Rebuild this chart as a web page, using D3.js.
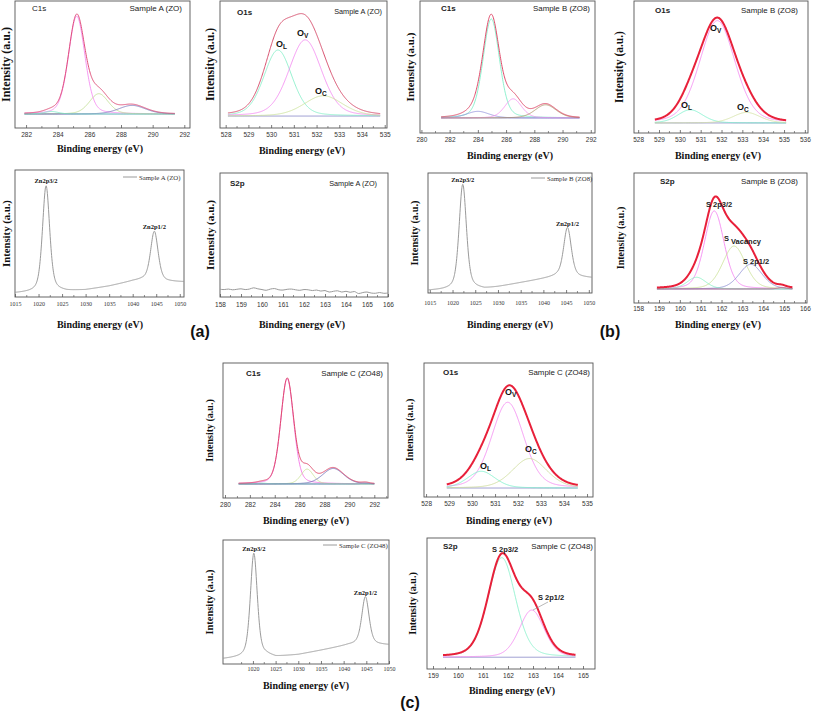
<!DOCTYPE html>
<html><head><meta charset="utf-8">
<script src="https://cdn.jsdelivr.net/npm/d3@7"></script>
<style>body{margin:0;background:#fff}</style>
</head><body><svg id="c" width="813" height="711" xmlns="http://www.w3.org/2000/svg"></svg>
<script>
// ===================== DATA =====================
// Fitted components: [centre (eV), height (relative intensity), sigma (eV)]
const aC1sTicks = [282, 284, 286, 288, 290, 292];
const aC1sBase = 0.11;
const aC1sRange = [281.9, 291.4];
const aC1sPeaks = [[285.2, 0.77, 0.52], [286.6, 0.16, 0.6], [288.7, 0.068, 0.85], [283.6, 0.02, 0.45]];

const aO1sTicks = [528, 529, 530, 531, 532, 533, 534, 535];
const aO1sBase = 0.094;
const aO1sRange = [528.1, 534.8];
const aO1sPeaks = [[530.3, 0.52, 0.62], [531.5, 0.6, 0.72], [532.3, 0.16, 0.85]];

const aZnTicks = [1015, 1020, 1025, 1030, 1035, 1040, 1045, 1050];
const aZnBackground = [[1015, 0.03], [1018, 0.035], [1020, 0.04], [1023, 0.05], [1026, 0.045], [1030, 0.055], [1035, 0.085], [1040, 0.125], [1042, 0.135], [1047, 0.12], [1051, 0.118]];
const aZnPeaks = [[1021.6, 0.83, 1.8], [1044.6, 0.39, 1.9]];

const aS2pTicks = [158, 159, 160, 161, 162, 163, 164, 165, 166];
const aS2pEnergy = [158.0, 158.2, 158.4, 158.6, 158.8, 159.0, 159.2, 159.4, 159.6, 159.8, 160.0, 160.2, 160.4, 160.6, 160.8, 161.0, 161.2, 161.4, 161.6, 161.8, 162.0, 162.2, 162.4, 162.6, 162.8, 163.0, 163.2, 163.4, 163.6, 163.8, 164.0, 164.2, 164.4, 164.6, 164.8, 165.0, 165.2, 165.4, 165.6, 165.8, 166.0];
const aS2pIntensity = [0.062, 0.060, 0.064, 0.058, 0.062, 0.066, 0.060, 0.064, 0.074, 0.066, 0.060, 0.054, 0.064, 0.068, 0.058, 0.056, 0.062, 0.064, 0.058, 0.054, 0.060, 0.058, 0.052, 0.056, 0.048, 0.052, 0.040, 0.046, 0.050, 0.040, 0.046, 0.038, 0.044, 0.028, 0.036, 0.040, 0.032, 0.030, 0.036, 0.030, 0.032];

const bC1sTicks = [280, 282, 284, 286, 288, 290, 292];
const bC1sBase = 0.114;
const bC1sRange = [281.4, 291.2];
const bC1sPeaks = [[284.95, 0.75, 0.58], [284.0, 0.05, 0.8], [286.5, 0.145, 0.6], [288.8, 0.1, 0.75]];

const bO1sTicks = [528, 529, 530, 531, 532, 533, 534, 535, 536];
const bO1sBase = 0.076;
const bO1sRange = [528.8, 535.1];
const bO1sPeaks = [[531.8, 0.775, 0.85], [530.5, 0.1, 0.6], [533.2, 0.08, 0.65]];

const bZnTicks = [1015, 1020, 1025, 1030, 1035, 1040, 1045, 1050];
const bZnBackground = [[1014.6, 0.02], [1018, 0.025], [1020, 0.03], [1024, 0.04], [1027, 0.033], [1030, 0.05], [1035, 0.085], [1041, 0.125], [1043, 0.14], [1048, 0.13], [1050.7, 0.125]];
const bZnPeaks = [[1022.25, 0.87, 1.9], [1045.3, 0.41, 2.0]];

const bS2pTicks = [158, 159, 160, 161, 162, 163, 164, 165, 166];
const bS2pBase = 0.108;
const bS2pRange = [158.9, 165.4];
const bS2pPeaks = [[161.65, 0.6, 0.47], [162.6, 0.33, 0.55], [163.4, 0.19, 0.55], [160.8, 0.09, 0.45], [164.9, 0.012, 0.2]];

const cC1sTicks = [280, 282, 284, 286, 288, 290, 292];
const cC1sBase = 0.104;
const cC1sRange = [281.1, 292.0];
const cC1sPeaks = [[285.0, 0.78, 0.52], [286.6, 0.11, 0.5], [288.7, 0.115, 0.85], [283.0, 0.006, 0.4], [291.3, 0.008, 0.3]];

const cO1sTicks = [528, 529, 530, 531, 532, 533, 534, 535];
const cO1sBase = 0.067;
const cO1sRange = [528.9, 534.6];
const cO1sPeaks = [[531.55, 0.64, 0.7], [532.5, 0.22, 0.75], [530.4, 0.125, 0.6]];

const cZnTicks = [1020, 1025, 1030, 1035, 1040, 1045, 1050];
const cZnBackground = [[1013.4, 0.04], [1017, 0.05], [1019, 0.06], [1023, 0.07], [1025, 0.056], [1030, 0.075], [1035, 0.11], [1041, 0.153], [1043, 0.16], [1048, 0.155], [1050, 0.153]];
const cZnPeaks = [[1020.2, 0.83, 1.8], [1044.8, 0.385, 1.9]];

const cS2pTicks = [159, 160, 161, 162, 163, 164, 165];
const cS2pBase = 0.09;
const cS2pRange = [159.4, 164.7];
const cS2pPeaks = [[161.75, 0.76, 0.55], [162.95, 0.36, 0.5]];

// ===================== DRAWING =====================
const svg = d3.select('#c');
const SANS = 'Liberation Sans, Arial, sans-serif';
const SERIF = 'Liberation Serif, Times New Roman, serif';
const MIX = 0.25; // Lorentzian fraction of the fitted line shapes

function comp(p, e) {
  const d = e - p[0];
  const g = Math.exp(-(d * d) / (2 * p[2] * p[2]));
  const hw = 1.1774 * p[2];
  const l = 1 / (1 + (d * d) / (hw * hw));
  return p[1] * ((1 - MIX) * g + MIX * l);
}
function voigt(p, e) {
  const w = p[2] / 2, d = e - p[0];
  const g = Math.exp(-Math.log(2) * d * d / (w * w));
  const l = 1 / (1 + d * d / (w * w));
  return p[1] * (0.55 * g + 0.45 * l);
}
function bgAt(bg, e) {
  for (let i = 0; i < bg.length - 1; i++) {
    if (e <= bg[i + 1][0]) {
      const t = (e - bg[i][0]) / (bg[i + 1][0] - bg[i][0]);
      return bg[i][1] + t * (bg[i + 1][1] - bg[i][1]);
    }
  }
  return bg[bg.length - 1][1];
}

function frame(cfg) {
  const [bx, by, bw, bh] = cfg.box;
  const x = d3.scaleLinear().domain(cfg.xd).range([bx, bx + bw]);
  const y = d3.scaleLinear().domain([0, 1]).range([by + bh, by]);
  const g = svg.append('g');
  const ax = d3.axisBottom(x).tickValues(cfg.ticks).tickSize(-3).tickPadding(cfg.tpad || 4).tickFormat(d3.format('d'));
  const ag = g.append('g').attr('transform', `translate(0,${by + bh})`).call(ax);
  ag.select('.domain').remove();
  ag.selectAll('.tick line').attr('stroke', '#444').attr('stroke-width', 0.7);
  ag.selectAll('text').attr('font-family', cfg.tickFont).attr('font-size', cfg.tickSize).attr('fill', '#333');
  const step = cfg.ticks[1] - cfg.ticks[0];
  const minors = [];
  for (let i = 0; i < cfg.ticks.length; i++) {
    const m = cfg.ticks[i] + step / 2;
    if (m < cfg.xd[1]) minors.push(m);
    if (i === 0 && cfg.ticks[0] - step / 2 > cfg.xd[0]) minors.push(cfg.ticks[0] - step / 2);
  }
  g.selectAll('line.minor').data(minors).join('line').attr('class', 'minor')
    .attr('x1', d => x(d)).attr('x2', d => x(d)).attr('y1', by + bh).attr('y2', by + bh - 2)
    .attr('stroke', '#444').attr('stroke-width', 0.6);
  g.append('rect').attr('x', bx).attr('y', by).attr('width', bw).attr('height', bh)
    .attr('fill', 'none').attr('stroke', '#555').attr('stroke-width', 0.9);
  svg.append('text').attr('x', cfg.xl[0]).attr('y', cfg.xl[1]).attr('text-anchor', 'middle')
    .attr('dominant-baseline', 'central').attr('font-family', SERIF).attr('font-weight', 'bold')
    .attr('font-size', 10).attr('fill', '#111').text('Binding energy (eV)');
  svg.append('text').attr('transform', `translate(${cfg.yl[0]},${by + bh / 2}) rotate(-90)`)
    .attr('text-anchor', 'middle').attr('dominant-baseline', 'central').attr('font-family', SERIF)
    .attr('font-weight', 'bold').attr('font-size', cfg.yl[1]).attr('fill', '#111').text('Intensity (a.u.)');
  return { x, y, g };
}

function text(t, px, py, opt = {}) {
  return svg.append('text').attr('x', px).attr('y', py).attr('dominant-baseline', 'central')
    .attr('text-anchor', opt.anchor || 'start').attr('font-family', opt.font || SANS)
    .attr('font-weight', opt.bold ? 'bold' : 'normal').attr('font-size', opt.size || 8)
    .attr('fill', opt.fill || '#222').text(t);
}
function oLabel(sub, px, py) {
  const t = svg.append('text').attr('x', px).attr('y', py).attr('dominant-baseline', 'central')
    .attr('font-family', SANS).attr('font-weight', 'bold').attr('font-size', 9).attr('fill', '#111');
  t.append('tspan').text('O');
  t.append('tspan').attr('font-size', 6.5).attr('dy', 2).text(sub);
}

function fitPanel(cfg) {
  const { x, y, g } = frame(cfg);
  const n = 400;
  const es = d3.range(n + 1).map(i => cfg.range[0] + (cfg.range[1] - cfg.range[0]) * i / n);
  const line = d3.line().x(d => x(d[0])).y(d => y(d[1]));
  g.append('path').attr('d', line([[cfg.range[0], cfg.base], [cfg.range[1], cfg.base]]))
    .attr('fill', 'none').attr('stroke', cfg.baseColor || '#8a8ac8').attr('stroke-width', 0.8);
  cfg.peaks.forEach((p, i) => {
    g.append('path').attr('d', line(es.map(e => [e, cfg.base + comp(p, e)])))
      .attr('fill', 'none').attr('stroke', cfg.colors[i]).attr('stroke-width', 0.8);
  });
  g.append('path').attr('d', line(es.map(e => [e, cfg.base + d3.sum(cfg.peaks, p => comp(p, e))])))
    .attr('fill', 'none').attr('stroke', cfg.envColor).attr('stroke-width', cfg.envWidth);
  return { x, y };
}

function znPanel(cfg) {
  const { x, y, g } = frame(cfg);
  const n = 600;
  const es = d3.range(n + 1).map(i => cfg.xd[0] + (cfg.xd[1] - cfg.xd[0]) * i / n);
  const line = d3.line().x(d => x(d[0])).y(d => y(d[1]));
  g.append('path').attr('d', line(es.map(e => [e, bgAt(cfg.bg, e) + d3.sum(cfg.peaks, p => voigt(p, e))])))
    .attr('fill', 'none').attr('stroke', '#9a9a9a').attr('stroke-width', 1);
  svg.append('line').attr('x1', cfg.leg[0]).attr('x2', cfg.leg[0] + 14).attr('y1', cfg.leg[1]).attr('y2', cfg.leg[1])
    .attr('stroke', '#9a9a9a').attr('stroke-width', 1);
  text(cfg.sample, cfg.leg[0] + 16, cfg.leg[1], { font: SERIF, size: 6.8, fill: '#333' });
  text('Zn2p3/2', x(cfg.peaks[0][0]), cfg.l1, { font: SERIF, bold: true, size: 6.5, anchor: 'middle', fill: '#111' });
  text('Zn2p1/2', x(cfg.peaks[1][0]), cfg.l2, { font: SERIF, bold: true, size: 6.5, anchor: 'middle', fill: '#111' });
}

// ---------- (a) Sample A ----------
fitPanel({ box: [15, 1, 175, 127], xd: [281.3, 292.36], ticks: aC1sTicks, tickFont: SANS, tickSize: 6.5,
  xl: [100, 148], yl: [5.5, 12], base: aC1sBase, range: aC1sRange, peaks: aC1sPeaks,
  colors: ['#f47ff0', '#bcdc8c', '#7070b8', '#74eac4'], envColor: '#e0507a', envWidth: 1 });
text('C1s', 32, 8, { size: 8 });
text('Sample A (ZO)', 182, 8, { size: 8, anchor: 'end' });

fitPanel({ box: [220, 1, 167, 127], xd: [527.75, 535.1], ticks: aO1sTicks, tickFont: SANS, tickSize: 6.5,
  xl: [302, 150], yl: [210.5, 11.7], base: aO1sBase, range: aO1sRange, peaks: aO1sPeaks,
  colors: ['#7ceec4', '#f282f0', '#c8e094'], envColor: '#d8506e', envWidth: 1 });
text('O1s', 237, 12, { size: 8, bold: true });
text('Sample A (ZO)', 382, 11, { size: 7.3, anchor: 'end' });
oLabel('L', 276, 44); oLabel('V', 297, 33); oLabel('C', 315, 91);

znPanel({ box: [15, 170, 169, 127], xd: [1015, 1050.9], ticks: aZnTicks, tickFont: SERIF, tickSize: 6, tpad: 5,
  xl: [100, 324], yl: [5.5, 10.7], bg: aZnBackground, peaks: aZnPeaks, leg: [123, 177],
  sample: 'Sample A (ZO)', l1: 180, l2: 226 });

(function () {
  const { x, y, g } = frame({ box: [220, 173, 168, 124], xd: [158, 166], ticks: aS2pTicks, tickFont: SANS, tickSize: 6.5, tpad: 5,
    xl: [302, 324], yl: [210, 11.2] });
  g.append('path').attr('d', d3.line().x((d, i) => x(aS2pEnergy[i])).y(d => y(d)).curve(d3.curveCatmullRom)(aS2pIntensity))
    .attr('fill', 'none').attr('stroke', '#9a9a9a').attr('stroke-width', 1);
})();
text('S2p', 230, 183, { size: 8, bold: true });
text('Sample A (ZO)', 377, 183, { size: 7.3, anchor: 'end' });

// ---------- (b) Sample B ----------
fitPanel({ box: [420, 1, 175, 132], xd: [279.9, 292.3], ticks: bC1sTicks, tickFont: SANS, tickSize: 6.5, tpad: 4.5,
  xl: [510, 155], yl: [410, 11], base: bC1sBase, range: bC1sRange, peaks: bC1sPeaks,
  colors: ['#70eec2', '#8c8cd8', '#f58cf0', '#a88a60'], envColor: '#e04a6a', envWidth: 1 });
text('C1s', 441, 8, { size: 8, bold: true });
text('Sample B (ZO8)', 590, 8, { size: 7.9, anchor: 'end' });

fitPanel({ box: [634, 1, 174, 132], xd: [527.8, 536.15], ticks: bO1sTicks, tickFont: SANS, tickSize: 6.5, tpad: 4.5,
  xl: [718, 155], yl: [618.5, 11.5], base: bO1sBase, range: bO1sRange, peaks: bO1sPeaks,
  colors: ['#f282f0', '#72f0c8', '#d2e0a0'], envColor: '#e8203a', envWidth: 2 });
text('O1s', 655, 10, { size: 8, bold: true });
text('Sample B (ZO8)', 798, 10, { size: 7.9, anchor: 'end' });
oLabel('V', 710, 28); oLabel('L', 681, 105); oLabel('C', 737, 107);

znPanel({ box: [428, 173, 164, 120], xd: [1014.6, 1050.7], ticks: bZnTicks, tickFont: SERIF, tickSize: 6, tpad: 8,
  xl: [510, 324], yl: [414, 10.4], bg: bZnBackground, peaks: bZnPeaks, leg: [531, 178],
  sample: 'Sample B (ZO8)', l1: 179, l2: 223 });

fitPanel({ box: [634, 173, 173, 130], xd: [157.8, 166.1], ticks: bS2pTicks, tickFont: SANS, tickSize: 6.5, tpad: 3,
  xl: [718, 324], yl: [620.5, 10], base: bS2pBase, range: bS2pRange, peaks: bS2pPeaks,
  colors: ['#f278f0', '#c8e090', '#8888d0', '#80f0c0', '#c06080'], envColor: '#e8203a', envWidth: 2 });
text('S2p', 660, 181, { size: 8, bold: true });
text('Sample B (ZO8)', 798, 181, { size: 7.9, anchor: 'end' });
text('S 2p3/2', 706, 204, { size: 7.5, bold: true });
text('S', 724, 238, { size: 7.5, bold: true });
text('Vacancy', 731, 241, { size: 7.5, bold: true });
text('S 2p1/2', 743, 261, { size: 7.5, bold: true });

// ---------- (c) Sample C ----------
fitPanel({ box: [223, 363, 165, 135], xd: [279.84, 293.1], ticks: cC1sTicks, tickFont: SANS, tickSize: 6.5,
  xl: [306, 520], yl: [209, 10], base: cC1sBase, range: cC1sRange, peaks: cC1sPeaks,
  colors: ['#f264e2', '#c8e090', '#6464b2', '#74eac4', '#9090c0'], envColor: '#e04a6a', envWidth: 1 });
text('C1s', 246, 373, { size: 8, bold: true });
text('Sample C (ZO48)', 383, 373, { size: 7.9, anchor: 'end' });

fitPanel({ box: [424, 363, 169, 134], xd: [527.91, 535.26], ticks: cO1sTicks, tickFont: SANS, tickSize: 6.5,
  xl: [509, 520], yl: [409, 10], base: cO1sBase, range: cO1sRange, peaks: cO1sPeaks,
  colors: ['#f282f0', '#c8d890', '#72f0c8'], envColor: '#e8203a', envWidth: 2 });
text('O1s', 443, 372, { size: 8, bold: true });
text('Sample C (ZO48)', 590, 372, { size: 7.9, anchor: 'end' });
oLabel('V', 505, 392); oLabel('C', 525, 449); oLabel('L', 480, 466);

znPanel({ box: [223, 540, 166, 124], xd: [1013.4, 1050], ticks: cZnTicks, tickFont: SERIF, tickSize: 6, tpad: 3,
  xl: [306, 685], yl: [209, 10.4], bg: cZnBackground, peaks: cZnPeaks, leg: [323, 545],
  sample: 'Sample C (ZO48)', l1: 548, l2: 592 });

fitPanel({ box: [427, 538, 168, 131], xd: [158.76, 165.48], ticks: cS2pTicks, tickFont: SANS, tickSize: 6.5,
  xl: [512, 690], yl: [412.5, 10], base: cS2pBase, range: cS2pRange, peaks: cS2pPeaks,
  colors: ['#80f0c8', '#f282f0'], envColor: '#e8203a', envWidth: 2 });
text('S2p', 443, 546, { size: 8, bold: true });
text('Sample C (ZO48)', 593, 546, { size: 7.9, anchor: 'end' });
text('S 2p3/2', 492, 549, { size: 7.5, bold: true });
text('S 2p1/2', 538, 597, { size: 7.5, bold: true });
svg.append('line').attr('x1', 548).attr('y1', 602).attr('x2', 533).attr('y2', 610).attr('stroke', '#888').attr('stroke-width', 0.6);

// row labels
text('(a)', 200, 331, { size: 16, bold: true, anchor: 'middle', fill: '#111' });
text('(b)', 610, 331, { size: 16, bold: true, anchor: 'middle', fill: '#111' });
text('(c)', 410, 702, { size: 16, bold: true, anchor: 'middle', fill: '#111' });
</script></body></html>
